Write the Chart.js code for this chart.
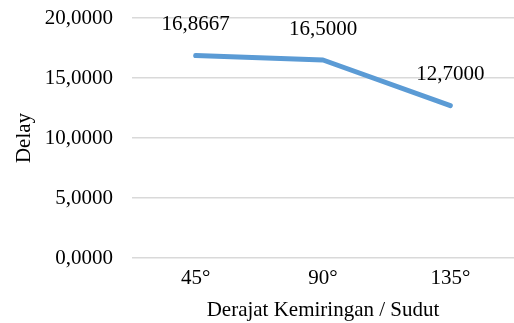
<!DOCTYPE html>
<html>
<head>
<meta charset="utf-8">
<script src="https://cdn.jsdelivr.net/npm/chart.js@4"></script>
<style>
  html, body { margin: 0; padding: 0; background: #fff; }
</style>
</head>
<body>
<canvas id="chartDelay" width="514" height="323"></canvas>
<script>
var categories = ['45°', '90°', '135°'];
var delayValues = [16.8667, 16.5, 12.7];
var yTicks = [0, 5, 10, 15, 20];

function formatComma(v) {
    return Number(v).toFixed(4).replace('.', ',');
}

// simple data labels above each point
var pointLabels = {
    id: 'pointLabels',
    afterDatasetsDraw: function (chart) {
        var ctx = chart.ctx;
        var meta = chart.getDatasetMeta(0);
        ctx.save();
        ctx.font = '21px "Liberation Serif"';
        ctx.fillStyle = '#000';
        ctx.textAlign = 'center';
        ctx.textBaseline = 'middle';
        meta.data.forEach(function (pt, i) {
            ctx.fillText(formatComma(delayValues[i]), pt.x, pt.y - 31);
        });
        ctx.restore();
    }
};

var ctx = document.getElementById('chartDelay').getContext('2d');

var graph = new Chart(ctx, {
    type: 'line',
    data: {
        labels: categories,
        datasets: [
            {
                label: 'Delay',
                data: delayValues,
                borderColor: '#5B9BD5',
                borderWidth: 5,
                borderCapStyle: 'round',
                borderJoinStyle: 'round',
                pointRadius: 0,
                tension: 0,
                fill: false
            }
        ]
    },
    options: {
        responsive: false,
        animation: false,
        layout: { padding: { top: 18, right: 0, bottom: 0, left: 0 } },
        plugins: {
            legend: { display: false },
            tooltip: { enabled: false }
        },
        scales: {
            x: {
                offset: true,
                grid: { display: false, drawTicks: false },
                border: { display: false },
                ticks: {
                    color: '#000',
                    padding: 8,
                    font: { family: 'Liberation Serif', size: 21 }
                },
                title: {
                    display: true,
                    text: 'Derajat Kemiringan / Sudut',
                    color: '#000',
                    padding: { top: 0, bottom: 0 },
                    font: { family: 'Liberation Serif', size: 21 }
                },
                afterFit: function (scale) {
                    scale.height = 65;
                    scale.paddingLeft = 0;
                    scale.paddingRight = 0;
                }
            },
            y: {
                min: 0,
                max: 20,
                afterBuildTicks: function (scale) {
                    scale.ticks = yTicks.map(function (v) { return { value: v }; });
                },
                grid: { color: '#d9d9d9', lineWidth: 1.5, drawTicks: false },
                border: { display: false },
                ticks: {
                    color: '#000',
                    padding: 19,
                    font: { family: 'Liberation Serif', size: 21 },
                    callback: function (v) { return formatComma(v); }
                },
                title: {
                    display: true,
                    text: 'Delay',
                    color: '#000',
                    padding: { top: 12, bottom: 0 },
                    font: { family: 'Liberation Serif', size: 21 }
                },
                afterFit: function (scale) {
                    scale.width = 132;
                    scale.paddingTop = 0;
                    scale.paddingBottom = 0;
                }
            }
        }
    },
    plugins: [pointLabels]
});
</script>
</body>
</html>
